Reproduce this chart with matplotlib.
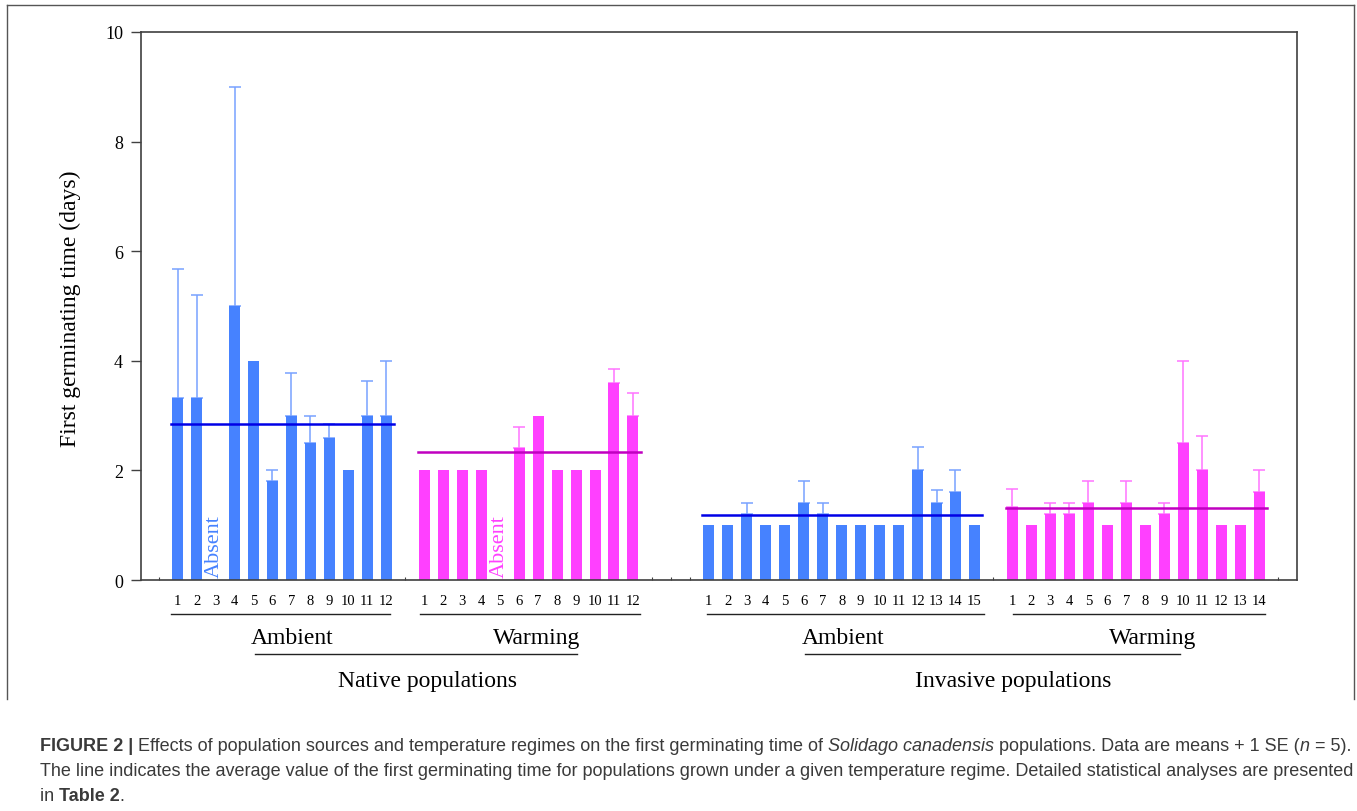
import numpy as np
import matplotlib
matplotlib.use("Agg")
import matplotlib.pyplot as plt
from matplotlib import font_manager
from matplotlib.lines import Line2D
import matplotlib.transforms as mtransforms

# ---------------- data ----------------
native_ambient = [3.33, 3.33, np.nan, 5.0, 4.0, 1.8, 3.0, 2.5, 2.6, 2.0, 3.0, 3.0]
native_ambient_se = [2.35, 1.87, 0, 4.0, 0, 0.2, 0.77, 0.5, 0.24, 0, 0.64, 1.0]
native_warming = [2.0, 2.0, 2.0, 2.0, np.nan, 2.4, 3.0, 2.0, 2.0, 2.0, 3.6, 3.0]
native_warming_se = [0, 0, 0, 0, 0, 0.4, 0, 0, 0, 0, 0.25, 0.41]
invasive_ambient = [1.0, 1.0, 1.2, 1.0, 1.0, 1.4, 1.2, 1.0, 1.0, 1.0, 1.0, 2.0, 1.4, 1.6, 1.0]
invasive_ambient_se = [0, 0, 0.2, 0, 0, 0.4, 0.2, 0, 0, 0, 0, 0.43, 0.24, 0.4, 0]
invasive_warming = [1.33, 1.0, 1.2, 1.2, 1.4, 1.0, 1.4, 1.0, 1.2, 2.5, 2.0, 1.0, 1.0, 1.6]
invasive_warming_se = [0.33, 0, 0.2, 0.2, 0.4, 0, 0.4, 0, 0.2, 1.5, 0.62, 0, 0, 0.4]
group_means = [2.84, 2.33, 1.19, 1.32]

regime_labels = ["Ambient", "Warming", "Ambient", "Warming"]
source_labels = ["Native populations", "Invasive populations"]
y_label = "First germinating time (days)"
y_ticks = [0, 2, 4, 6, 8, 10]

# ---------------- style ----------------
BLUE = "#4682FF"
BLUE_ERR = "#78A2FF"
BLUE_LINE = "#0000E6"
MAG = "#FF40FF"
MAG_ERR = "#FF74FF"
MAG_LINE = "#C000C0"
SERIF = ["Liberation Serif", "DejaVu Serif"]
AXCOL = "#404040"

W, H = 1357, 812
fig = plt.figure(figsize=(W / 100, H / 100), dpi=100)
fig.patch.set_facecolor("white")

def fx(px):
    return px / W

def fy(py):
    return 1 - py / H

ax = fig.add_axes([fx(141), fy(581), fx(1297) - fx(141), fy(33) - fy(581)])

groups = [
    (native_ambient, native_ambient_se, 0, BLUE, BLUE_ERR, BLUE_LINE),
    (native_warming, native_warming_se, 13, MAG, MAG_ERR, MAG_LINE),
    (invasive_ambient, invasive_ambient_se, 28, BLUE, BLUE_ERR, BLUE_LINE),
    (invasive_warming, invasive_warming_se, 44, MAG, MAG_ERR, MAG_LINE),
]

bw = 0.58
all_pos, all_lab = [], []
for gi, (vals, ses, start, c, ce, cl) in enumerate(groups):
    vals = np.array(vals, dtype=float)
    ses = np.array(ses, dtype=float)
    pos = start + np.arange(len(vals))
    ok = ~np.isnan(vals)
    ax.bar(pos[ok], vals[ok], width=bw, color=c, edgecolor="none", zorder=2)
    has_err = ok & (ses > 0)
    ax.errorbar(pos[has_err], vals[has_err],
                yerr=[np.zeros(has_err.sum()), ses[has_err]],
                fmt="none", ecolor=ce, elinewidth=1.1, capsize=4, capthick=1.1, zorder=1)
    ax.plot([pos[0] - 0.35, pos[-1] + 0.4], [group_means[gi]] * 2, color=cl, lw=1.8, zorder=3)
    for p, v in zip(pos, vals):
        if np.isnan(v):
            ax.text(p - 0.05, 0.05, "Absent", rotation=90, ha="center", va="bottom",
                    color=c, fontsize=16, family=SERIF, zorder=3)
    all_pos += list(pos)
    all_lab += [str(i + 1) for i in range(len(vals))]

ax.set_xlim(-1.93, 59.0)
ax.set_ylim(0, 10)
ax.set_yticks(y_ticks)
ax.set_yticklabels([str(t) for t in y_ticks], family=SERIF, fontsize=13)
ax.set_xticks(all_pos)
ax.set_xticklabels(all_lab, family=SERIF, fontsize=10.5)
ax.tick_params(axis="x", which="major", length=0, pad=10, colors="black")
ax.tick_params(axis="y", which="major", direction="out", length=7, width=1, color=AXCOL, pad=6)
ax.set_xticks([-1, 2, 12, 17, 25, 26, 27, 43, 58], minor=True)
ax.tick_params(axis="x", which="minor", direction="in", length=2.5, width=0.8, color=AXCOL)
for s in ax.spines.values():
    s.set_color(AXCOL)
    s.set_linewidth(1.2)

# group annotation (data x, figure y)
trans = mtransforms.blended_transform_factory(ax.transData, fig.transFigure)
under_lines = [(-0.35, 11.2), (12.77, 24.37), (27.9, 42.5), (44.03, 57.3)]
regime_x = [6.03, 18.94, 35.1, 51.4]
for (a, b), lx, lab in zip(under_lines, regime_x, regime_labels):
    fig.add_artist(Line2D([a, b], [fy(615), fy(615)], transform=trans, color="#222222", lw=1.0))
    fig.text(lx, fy(644), lab, transform=trans, ha="center", va="baseline",
             fontsize=17, family=SERIF)
source_lines = [(4.07, 21.05), (33.06, 52.83)]
source_x = [13.19, 44.02]
for (a, b), lx, lab in zip(source_lines, source_x, source_labels):
    fig.add_artist(Line2D([a, b], [fy(655), fy(655)], transform=trans, color="#222222", lw=1.0))
    fig.text(lx, fy(687), lab, transform=trans, ha="center", va="baseline",
             fontsize=17, family=SERIF)

fig.text(fx(70), fy(309), y_label, rotation=90, ha="center", va="center",
         fontsize=17, family=SERIF)

# frame around figure (open at the bottom)
for xs, ys in [([7, 7], [6, 700]), ([7, 1354], [6, 6]), ([1354, 1354], [6, 700])]:
    fig.add_artist(Line2D([fx(x) for x in xs], [fy(y) for y in ys], color="#555555", lw=1.0))

# caption
names = {f.name for f in font_manager.fontManager.ttflist}
CAPFONT = "Liberation Sans Narrow" if "Liberation Sans Narrow" in names else "Liberation Sans"
CAPCOL = "#3a3a3a"
caption = [
    [("FIGURE 2 | ", "bold", "normal"),
     ("Effects of population sources and temperature regimes on the first germinating time of ", "normal", "normal"),
     ("Solidago canadensis", "normal", "italic"),
     (" populations. Data are means + 1 SE (", "normal", "normal"),
     ("n", "normal", "italic"),
     (" = 5).", "normal", "normal")],
    [("The line indicates the average value of the first germinating time for populations grown under a given temperature regime. Detailed statistical analyses are presented", "normal", "normal")],
    [("in ", "normal", "normal"), ("Table 2", "bold", "normal"), (".", "normal", "normal")],
]
cap_y = [747, 772, 797]
renderer = fig.canvas.get_renderer()

def draw_caption(fs):
    arts = []
    widths = []
    for line, yy in zip(caption, cap_y):
        x = fx(40)
        for txt, wt, st in line:
            t = fig.text(x, fy(yy), txt, ha="left", va="center", fontsize=fs,
                         family=CAPFONT, weight=wt, style=st, color=CAPCOL)
            bb = t.get_window_extent(renderer=renderer)
            x += bb.width / W
            arts.append(t)
        widths.append(x * W - 40)
    return arts, widths

arts, widths = draw_caption(12)
target = 1310
fs = 12 * target / widths[0]
for a in arts:
    a.remove()
draw_caption(fs)

fig.savefig("out.png", dpi=100, facecolor="white")
